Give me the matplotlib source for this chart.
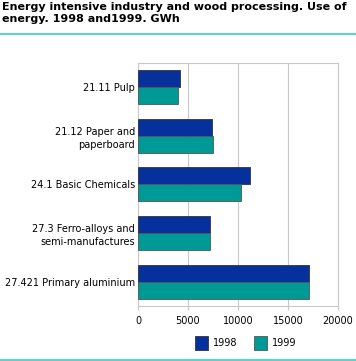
import numpy as np
import matplotlib.pyplot as plt
from matplotlib.patches import Patch
from matplotlib.lines import Line2D

# Data (GWh)
categories = ['21.11 Pulp', '21.12 Paper and\npaperboard', '24.1 Basic Chemicals',
              '27.3 Ferro-alloys and\nsemi-manufactures', '27.421 Primary aluminium']
use_1998 = [4250, 7400, 11200, 7200, 17150]
use_1999 = [4000, 7500, 10300, 7200, 17150]
xticks = [0, 5000, 10000, 15000, 20000]

blue = '#06309c'
teal = '#009a96'
grid_col = '#c8c8c8'

plt.rcParams['font.family'] = ['DejaVu Sans']

fig = plt.figure(figsize=(3.56, 3.61), dpi=100)
ax = fig.add_axes([0.3876, 0.1524, 0.5618, 0.6731])

y = np.arange(len(categories))
h = 0.35
ax.barh(y - h / 2, use_1998, height=h, color=blue, edgecolor='#333333', linewidth=0.6, zorder=3)
ax.barh(y + h / 2, use_1999, height=h, color=teal, edgecolor='#555555', linewidth=0.6, zorder=3)

ax.set_ylim(len(categories) - 0.5, -0.5)
ax.set_xlim(0, 20000)
ax.set_xticks(xticks)
ax.set_xticklabels([str(v) for v in xticks], fontsize=7)
ax.set_yticks(y)
ax.set_yticklabels(categories, fontsize=7, linespacing=1.4)
ax.tick_params(axis='y', length=0, pad=2)
ax.tick_params(axis='x', length=3, color=grid_col, pad=4)
ax.xaxis.grid(True, color=grid_col, linewidth=0.8, zorder=0)
for s in ax.spines.values():
    s.set_color(grid_col)
    s.set_linewidth(0.8)

# Title and decoration lines
fig.text(0.006, 0.995, 'Energy intensive industry and wood processing. Use of\nenergy. 1998 and1999. GWh',
         fontsize=8, fontweight='bold', va='top', ha='left', linespacing=1.22)
fig.add_artist(Line2D([0, 1], [1 - 33.5 / 361] * 2, color='#66cccc', linewidth=1.6))
fig.add_artist(Line2D([0, 1], [1 - 359.5 / 361] * 2, color='#66cccc', linewidth=1.6))

handles = [Patch(facecolor=blue, edgecolor='#333333', linewidth=0.6),
           Patch(facecolor=teal, edgecolor='#555555', linewidth=0.6)]
fig.legend(handles, ['1998', '1999'], loc='center', bbox_to_anchor=(0.69, 0.05),
           ncol=2, frameon=False, fontsize=7, handlelength=1.35, handleheight=1.75,
           handletextpad=0.5, columnspacing=1.7)

fig.savefig('out.png', dpi=100)
